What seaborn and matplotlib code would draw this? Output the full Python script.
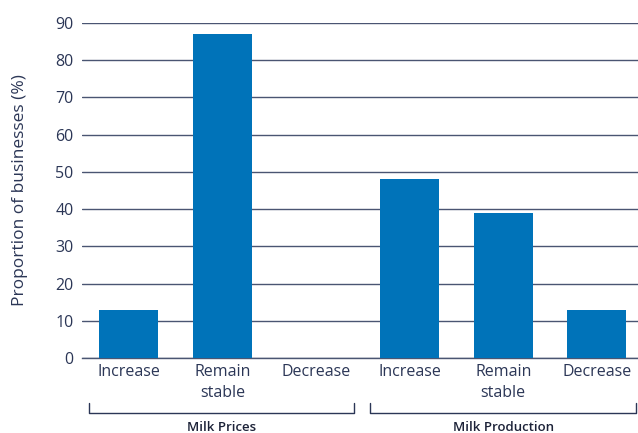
import matplotlib
matplotlib.use("Agg")
import matplotlib.pyplot as plt
import seaborn as sns
import pandas as pd

# Survey responses: expected change over the coming period
groups = ["Milk Prices", "Milk Prices", "Milk Prices",
          "Milk Production", "Milk Production", "Milk Production"]
responses = ["Increase", "Remain\nstable", "Decrease",
             "Increase", "Remain\nstable", "Decrease"]
shares = [13, 87, 0, 48, 39, 13]
y_ticks = [0, 10, 20, 30, 40, 50, 60, 70, 80, 90]

keys = [f"{g}|{r}" for g, r in zip(groups, responses)]
df = pd.DataFrame({"key": keys, "share": shares})

sns.set_theme(style="white")
plt.rcParams["font.family"] = ["Open Sans", "DejaVu Sans"]

NAVY = "#2b3656"
GRID = "#4a5572"
BLUE = "#0073b9"

fig = plt.figure(figsize=(6.38, 4.33), dpi=100)
ax = fig.add_axes([0.1285, 0.1732, 0.8715, 0.7737])

sns.barplot(data=df, x="key", y="share", order=keys, color=BLUE,
            width=0.63, saturation=1, ax=ax, zorder=3, edgecolor="none")

ax.set_ylim(0, 90)
ax.set_xlim(-0.5, 5.44)
ax.set_yticks(y_ticks)
ax.yaxis.grid(True, color=GRID, linewidth=1.0, zorder=0)
ax.xaxis.grid(False)
for s in ["top", "right", "left"]:
    ax.spines[s].set_visible(False)
ax.spines["bottom"].set_color(GRID)
ax.spines["bottom"].set_linewidth(1.0)

ax.set_xticks(range(len(keys)))
ax.set_xticklabels(responses, color=NAVY, fontsize=11.5, linespacing=1.45)
ax.tick_params(axis="x", length=0, pad=4)
ax.set_xticks([-0.5, 0.5, 1.5, 3.5, 4.5], minor=True)
ax.tick_params(axis="x", which="minor", direction="in", length=6,
               width=1, color=NAVY)
ax.tick_params(axis="y", length=0, pad=6, labelsize=11.5, labelcolor=NAVY)

ax.set_xlabel("")
ax.set_ylabel("Proportion of businesses (%)", color=NAVY, fontsize=12.5,
              labelpad=20)

# Group brackets beneath the category labels
trans = ax.get_xaxis_transform()
brackets = [("Milk Prices", -0.42, 2.41), ("Milk Production", 2.58, 5.42)]
y_low, y_high, y_text = -0.164, -0.134, -0.207
for label, x0, x1 in brackets:
    ax.plot([x0, x0, x1, x1], [y_high, y_low, y_low, y_high],
            color=NAVY, lw=1.0, transform=trans, clip_on=False)
    ax.text((x0 + x1) / 2, y_text, label, transform=trans, ha="center",
            va="center", fontsize=9.5, color="#1c2238", fontweight="semibold")

fig.savefig("out.png", dpi=100)
